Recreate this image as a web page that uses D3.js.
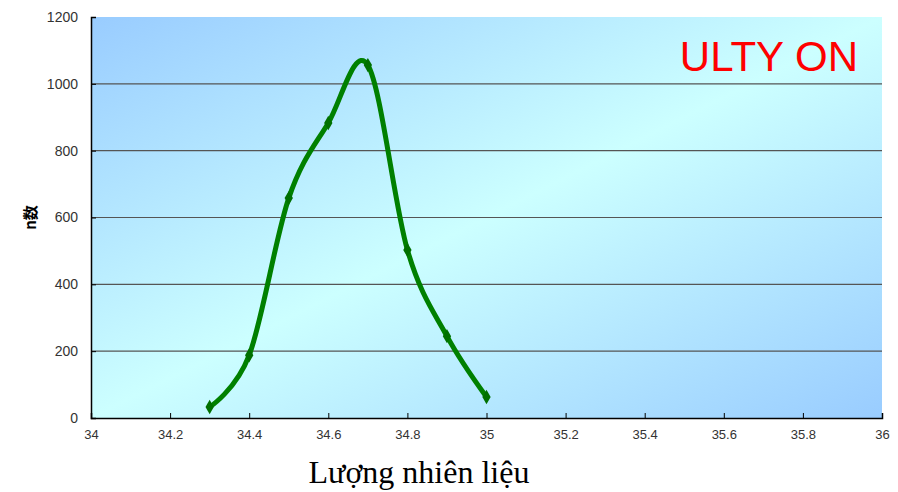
<!DOCTYPE html>
<html>
<head>
<meta charset="utf-8">
<script src="https://cdn.jsdelivr.net/npm/d3@7"></script>
<style>
  body { margin: 0; background: #fff; }
  .tick text { font-family: "Liberation Sans", Arial, sans-serif; fill: #333; }
</style>
</head>
<body>
<div id="chart-area"></div>
<script>
// data
var fuel = [34.3, 34.4, 34.5, 34.6, 34.7, 34.8, 34.9, 35];
var counts = [33, 188, 658, 883, 1056, 503, 245, 63];
var xTicks = [34, 34.2, 34.4, 34.6, 34.8, 35, 35.2, 35.4, 35.6, 35.8, 36];
var yTicks = [0, 200, 400, 600, 800, 1000, 1200];

var margin = { left: 91, right: 16, top: 17, bottom: 74 },
    width = 898 - margin.left - margin.right,
    height = 492 - margin.top - margin.bottom;

var svg = d3.select("#chart-area").append("svg")
    .attr("width", 898)
    .attr("height", 492);

// background gradient of plot area
var defs = svg.append("defs");
var grad = defs.append("linearGradient")
    .attr("id", "bg")
    .attr("x1", "0%").attr("y1", "0%")
    .attr("x2", "100%").attr("y2", "100%");
grad.append("stop").attr("offset", "0%").attr("stop-color", "#99ccff");
grad.append("stop").attr("offset", "50%").attr("stop-color", "#ccffff");
grad.append("stop").attr("offset", "100%").attr("stop-color", "#99ccff");

var g = svg.append("g")
    .attr("transform", "translate(" + margin.left + "," + margin.top + ")");

var x = d3.scaleLinear().domain([34, 36]).range([0, width]);
var y = d3.scaleLinear().domain([0, 1200]).range([height, 0]);

g.append("rect")
    .attr("width", width)
    .attr("height", height)
    .attr("fill", "url(#bg)");

// gridlines
g.selectAll(".grid")
    .data(yTicks.filter(function(d) { return d > 0 && d < 1200; }))
    .enter().append("line")
    .attr("class", "grid")
    .attr("x1", 0).attr("x2", width)
    .attr("y1", function(d) { return y(d); })
    .attr("y2", function(d) { return y(d); })
    .attr("stroke", "#555")
    .attr("stroke-width", 1.2);

// axes
var xAxis = g.append("g")
    .attr("transform", "translate(0," + height + ")")
    .call(d3.axisBottom(x).tickValues(xTicks).tickSize(-5).tickPadding(12)
        .tickFormat(function(d) { return String(+d.toFixed(1)); }));
var yAxis = g.append("g")
    .call(d3.axisLeft(y).tickValues(yTicks).tickSize(-5).tickPadding(13)
        .tickFormat(function(d) { return String(d); }));
xAxis.selectAll(".tick text").style("font-size", "13px");
yAxis.selectAll(".tick text").style("font-size", "14px");
[xAxis, yAxis].forEach(function(a) {
    a.select(".domain").attr("stroke", "#000").attr("stroke-width", 1.5);
    a.selectAll(".tick line").attr("stroke", "#000");
});

// smoothed line (excel-like smoothing)
var line = d3.line()
    .x(function(d, i) { return x(fuel[i]); })
    .y(function(d) { return y(d); })
    .curve(d3.curveCardinal.tension(0));

g.append("path")
    .attr("d", line(counts))
    .attr("fill", "none")
    .attr("stroke", "#008000")
    .attr("stroke-width", 5)
    .attr("stroke-linejoin", "round");

// diamond markers
g.selectAll(".pt")
    .data(counts)
    .enter().append("path")
    .attr("class", "pt")
    .attr("d", d3.symbol().type(d3.symbolDiamond).size(60))
    .attr("transform", function(d, i) { return "translate(" + x(fuel[i]) + "," + y(d) + ")"; })
    .attr("fill", "#007000");

// titles
svg.append("text")
    .attr("x", 858).attr("y", 71)
    .attr("text-anchor", "end")
    .attr("fill", "#ff0000")
    .style("font-family", "Liberation Sans, Arial, sans-serif")
    .style("font-size", "42px")
    .text("ULTY ON");

svg.append("text")
    .attr("transform", "translate(36," + (margin.top + height / 2) + ") rotate(-90)")
    .attr("text-anchor", "middle")
    .attr("fill", "#000")
    .style("font-family", "Noto Sans CJK JP, sans-serif")
    .style("font-size", "15px")
    .style("font-weight", "bold")
    .text("n数");

svg.append("text")
    .attr("x", 419).attr("y", 483)
    .attr("text-anchor", "middle")
    .attr("fill", "#000")
    .style("font-family", "Liberation Serif, Times New Roman, serif")
    .style("font-size", "32px")
    .text("Lượng nhiên liệu");
</script>
</body>
</html>
